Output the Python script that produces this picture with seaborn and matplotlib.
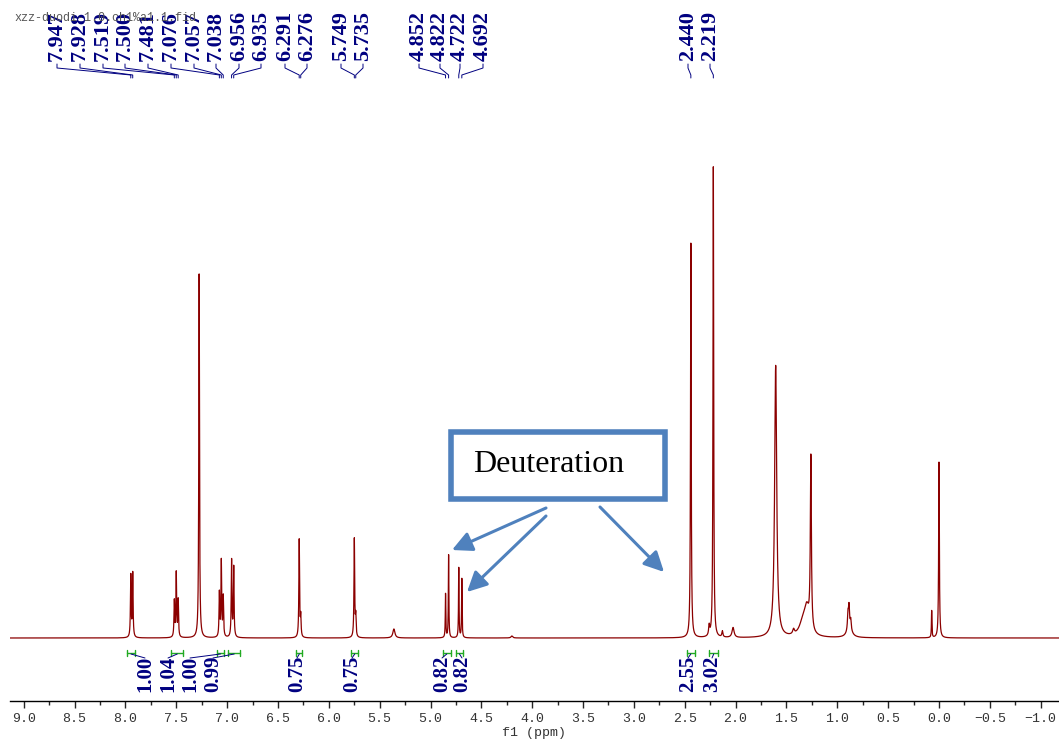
# 1H NMR spectrum with peak labels, integrals and a "Deuteration" call-out

import matplotlib
matplotlib.use("Agg")
import matplotlib.pyplot as plt
from matplotlib.patches import Rectangle
import numpy as np
import pandas as pd
import seaborn as sns

# peak table: shift (ppm), height, half width (ppm)
peak_ppm = [7.947, 7.928, 7.519, 7.500, 7.481, 7.275, 7.076, 7.057, 7.038,
            6.956, 6.935, 6.291, 6.276, 5.749, 5.735, 5.36, 4.852, 4.822,
            4.722, 4.692, 4.20, 2.440, 2.26, 2.219, 2.13, 2.025, 1.606, 1.43,
            1.30, 1.34, 1.26, 0.895, 0.885, 0.868, 0.88, 0.072, 0.0]
peak_height = [62, 64, 36, 64, 37, 364, 44, 76, 40,
               77, 70, 98, 20, 99, 20, 9, 44, 83,
               70, 59, 2, 395, 10, 471, 6, 10, 272, 5,
               26, 12, 172, 16, 22, 10, 8, 27, 176]
peak_width = [0.004, 0.004, 0.004, 0.004, 0.004, 0.004, 0.004, 0.004, 0.004,
              0.004, 0.004, 0.004, 0.004, 0.004, 0.004, 0.012, 0.003, 0.003,
              0.003, 0.003, 0.01, 0.004, 0.006, 0.004, 0.006, 0.012, 0.012, 0.01,
              0.03, 0.04, 0.006, 0.006, 0.006, 0.006, 0.03, 0.003, 0.004]

# shift labels at the top and where they sit (pixels from the left)
shift_labels = [7.947, 7.928, 7.519, 7.500, 7.481, 7.076, 7.057, 7.038, 6.956,
                6.935, 6.291, 6.276, 5.749, 5.735, 4.852, 4.822, 4.722, 4.692,
                2.440, 2.219]
shift_label_px = [57, 80, 103, 125, 148, 171, 194, 216, 239,
                  261, 285, 307, 341, 363, 419, 440, 460, 483,
                  688, 710]

# integrals
int_from = [7.98, 7.55, 7.10, 6.99, 6.32, 5.78, 4.88, 4.75, 2.48, 2.26]
int_to = [7.91, 7.43, 7.03, 6.87, 6.26, 5.71, 4.80, 4.68, 2.40, 2.17]
int_values = ["1.00", "1.04", "1.00", "0.99", "0.75", "0.75", "0.82", "0.82", "2.55", "3.02"]
int_label_px = [145, 168, 190, 213, 297, 352, 442, 462, 688, 712]

W, H = 1059, 740
PX0, PXPPM = 939, 101.7   # pixel of 0 ppm, pixels per ppm
BASE = 638                # pixel row of the baseline


def fx(px):
    return (PX0 - px) / PXPPM


def fy(py):
    return BASE - py


ppm = np.linspace(9.2, -1.25, 24000)
inten = np.zeros_like(ppm)
for c, h, w in zip(peak_ppm, peak_height, peak_width):
    inten += h * w ** 2 / ((ppm - c) ** 2 + w ** 2)
df = pd.DataFrame({"ppm": ppm, "intensity": inten})

sns.set_style("white")
fig = plt.figure(figsize=(W / 100, H / 100), dpi=100)
ax = fig.add_axes([10 / W, (H - 701) / H, (W - 10) / W, 701 / H])

sns.lineplot(data=df, x="ppm", y="intensity", ax=ax, color="#8B0000",
             linewidth=0.9, estimator=None, sort=False)

ax.set_xlim(fx(10), fx(W))
ax.set_ylim(fy(701), fy(0))

for s in ["top", "left", "right"]:
    ax.spines[s].set_visible(False)
ax.spines["bottom"].set_color("black")
ax.spines["bottom"].set_linewidth(1)
ax.set_yticks([])
ticks = np.arange(-1.0, 9.01, 0.5)
ax.set_xticks(ticks)
ax.set_xticks(np.arange(-1.0, 9.01, 0.25), minor=True)
ax.set_xticklabels([f"{t:.1f}".replace("-", "\u2212") for t in ticks])
ax.tick_params(axis="x", which="major", direction="out", length=5, width=1,
               pad=4, labelsize=9.5, labelcolor="#333333", bottom=True)
ax.tick_params(axis="x", which="minor", direction="out", length=3, width=1, bottom=True)
for lab in ax.get_xticklabels():
    lab.set_family(["Liberation Mono", "DejaVu Sans Mono"])
ax.set_xlabel("f1 (ppm)", family="Liberation Mono", fontsize=9.5, color="#333333", labelpad=1)
ax.set_ylabel("")

navy = "#000080"
# file name at the top left
fig.text(14 / W, 1 - 18 / H, "xzz-duodi-1.0.ch1%a1.1.fid", family="Liberation Mono",
         fontsize=8.5, color="#555555", va="center", ha="left", zorder=0)

# shift labels with connectors
for val, lpx in zip(shift_labels, shift_label_px):
    ax.text(fx(lpx), fy(61), f"{val:.3f}", rotation=90, ha="center", va="bottom",
            fontsize=16, fontweight="bold", family="Liberation Serif", color=navy)
    ax.plot([fx(lpx), fx(lpx), val, val], [fy(64), fy(68), fy(75), fy(78)],
            color=navy, lw=0.7)

# integrals
green = "#22AA22"
for a, b, v, lpx in zip(int_from, int_to, int_values, int_label_px):
    ax.plot([a, b], [fy(653), fy(653)], color=green, lw=1)
    ax.plot([a, a], [fy(650), fy(656)], color=green, lw=1)
    ax.plot([b, b], [fy(650), fy(656)], color=green, lw=1)
    ax.plot([(a + b) / 2, fx(lpx)], [fy(654), fy(658)], color=navy, lw=0.7)
    ax.text(fx(lpx), fy(656), v, rotation=90, ha="center", va="top",
            fontsize=15, fontweight="bold", family="Liberation Serif", color=navy)

# call-out box and arrows
blue = "#4F81BD"
fig.patches.append(Rectangle((451 / W, 1 - 499 / H), 214 / W, 67 / H,
                             transform=fig.transFigure, fill=True, fc="white",
                             ec=blue, lw=4))
fig.text(549 / W, 1 - 464 / H, "Deuteration", family="Liberation Serif",
         fontsize=23, ha="center", va="center", color="black")
for (x0, y0), (x1, y1) in [((546, 508), (452, 550)),
                           ((546, 516), (467, 592)),
                           ((600, 507), (664, 572))]:
    ax.annotate("", xy=(fx(x1), fy(y1)), xytext=(fx(x0), fy(y0)),
                arrowprops=dict(arrowstyle="-|>", color=blue, lw=2.2,
                                mutation_scale=30, shrinkA=0, shrinkB=0))

fig.savefig("out.png", dpi=100)
